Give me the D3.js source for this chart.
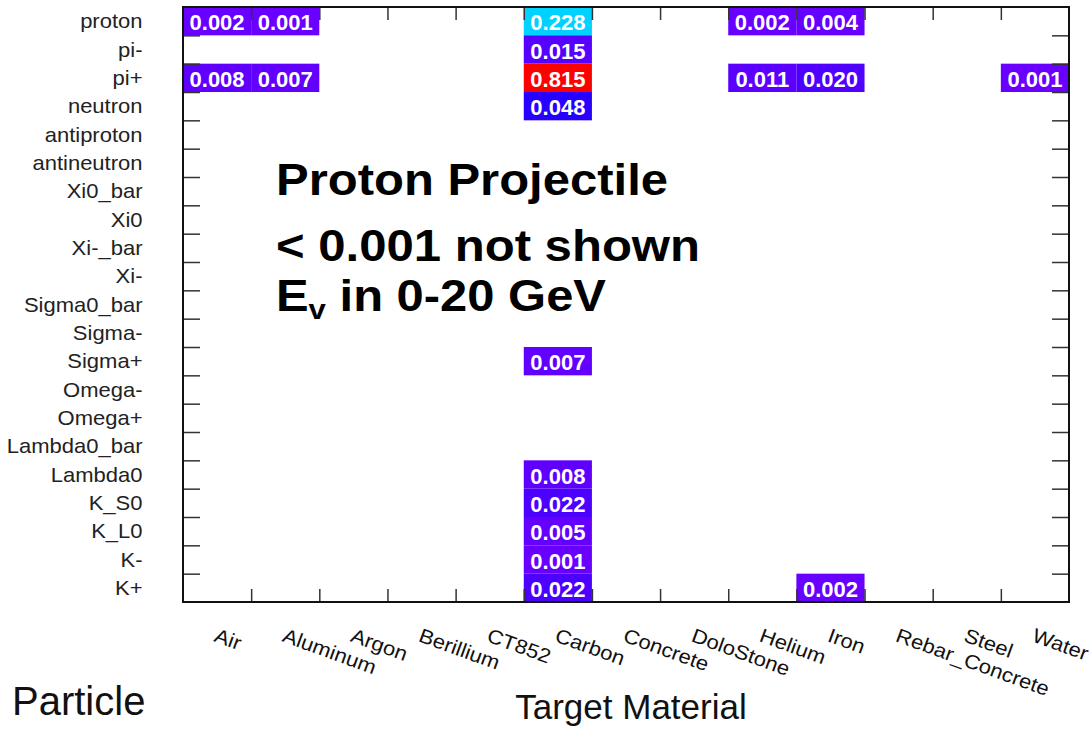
<!DOCTYPE html>
<html>
<head>
<meta charset="utf-8">
<script src="https://cdn.jsdelivr.net/npm/d3@7"></script>
<style>
  body { margin: 0; background: #fff; }
  text { font-family: "Liberation Sans", Arial, Helvetica, sans-serif; }
</style>
</head>
<body>
<div id="chart"></div>
<script>
const materials = ['Air', 'Aluminum', 'Argon', 'Berillium', 'CT852', 'Carbon', 'Concrete',
  'DoloStone', 'Helium', 'Iron', 'Rebar_Concrete', 'Steel', 'Water'];

const particles = ['proton', 'pi-', 'pi+', 'neutron', 'antiproton', 'antineutron', 'Xi0_bar',
  'Xi0', 'Xi-_bar', 'Xi-', 'Sigma0_bar', 'Sigma-', 'Sigma+', 'Omega-', 'Omega+',
  'Lambda0_bar', 'Lambda0', 'K_S0', 'K_L0', 'K-', 'K+'];

// fraction per particle (row) and material (column); 0 = below 0.001, not shown
const fractions = [
  [0.002, 0.001, 0, 0, 0, 0.228, 0, 0, 0.002, 0.004, 0, 0, 0],      // proton
  [0, 0, 0, 0, 0, 0.015, 0, 0, 0, 0, 0, 0, 0],                      // pi-
  [0.008, 0.007, 0, 0, 0, 0.815, 0, 0, 0.011, 0.020, 0, 0, 0.001],  // pi+
  [0, 0, 0, 0, 0, 0.048, 0, 0, 0, 0, 0, 0, 0],                      // neutron
  [0, 0, 0, 0, 0, 0, 0, 0, 0, 0, 0, 0, 0],                          // antiproton
  [0, 0, 0, 0, 0, 0, 0, 0, 0, 0, 0, 0, 0],                          // antineutron
  [0, 0, 0, 0, 0, 0, 0, 0, 0, 0, 0, 0, 0],                          // Xi0_bar
  [0, 0, 0, 0, 0, 0, 0, 0, 0, 0, 0, 0, 0],                          // Xi0
  [0, 0, 0, 0, 0, 0, 0, 0, 0, 0, 0, 0, 0],                          // Xi-_bar
  [0, 0, 0, 0, 0, 0, 0, 0, 0, 0, 0, 0, 0],                          // Xi-
  [0, 0, 0, 0, 0, 0, 0, 0, 0, 0, 0, 0, 0],                          // Sigma0_bar
  [0, 0, 0, 0, 0, 0, 0, 0, 0, 0, 0, 0, 0],                          // Sigma-
  [0, 0, 0, 0, 0, 0.007, 0, 0, 0, 0, 0, 0, 0],                      // Sigma+
  [0, 0, 0, 0, 0, 0, 0, 0, 0, 0, 0, 0, 0],                          // Omega-
  [0, 0, 0, 0, 0, 0, 0, 0, 0, 0, 0, 0, 0],                          // Omega+
  [0, 0, 0, 0, 0, 0, 0, 0, 0, 0, 0, 0, 0],                          // Lambda0_bar
  [0, 0, 0, 0, 0, 0.008, 0, 0, 0, 0, 0, 0, 0],                      // Lambda0
  [0, 0, 0, 0, 0, 0.022, 0, 0, 0, 0, 0, 0, 0],                      // K_S0
  [0, 0, 0, 0, 0, 0.005, 0, 0, 0, 0, 0, 0, 0],                      // K_L0
  [0, 0, 0, 0, 0, 0.001, 0, 0, 0, 0, 0, 0, 0],                      // K-
  [0, 0, 0, 0, 0, 0.022, 0, 0, 0, 0.002, 0, 0, 0],                  // K+
];

const noteLines = ['Proton Projectile', '< 0.001 not shown'];

const width = 1092;
const height = 730;
const frame = { left: 183, right: 1069, top: 7, bottom: 602 };

const svg = d3.select('#chart')
  .append('svg')
  .attr('width', width)
  .attr('height', height);

const x = d3.scaleBand()
  .domain(materials)
  .range([frame.left, frame.right]);

const y = d3.scaleBand()
  .domain(particles)
  .range([frame.top, frame.bottom]);

// bin-edge scales, used for the tick marks between cells
const xEdge = d3.scaleLinear().domain([0, materials.length]).range([frame.left, frame.right]);
const yEdge = d3.scaleLinear().domain([0, particles.length]).range([frame.top, frame.bottom]);

const maxValue = d3.max(fractions.flat());
// rainbow palette, violet (low) to red (high), like the ROOT colz one
const color = d3.scaleSequential(t => d3.hsl(265 * (1 - t), 1, 0.5).toString())
  .domain([0, maxValue]);

const cells = [];
fractions.forEach((row, i) => {
  row.forEach((v, j) => {
    if (v >= 0.001) cells.push({ particle: particles[i], material: materials[j], value: v });
  });
});

const cell = svg.append('g')
  .selectAll('g')
  .data(cells)
  .enter()
  .append('g');

cell.append('rect')
  .attr('x', d => x(d.material))
  .attr('y', d => y(d.particle))
  .attr('width', x.bandwidth())
  .attr('height', y.bandwidth())
  .attr('fill', d => color(d.value));

cell.append('text')
  .attr('x', d => x(d.material) + x.bandwidth() / 2)
  .attr('y', d => y(d.particle) + y.bandwidth() / 2)
  .attr('dy', '0.42em')
  .attr('text-anchor', 'middle')
  .attr('fill', '#fff')
  .attr('font-size', 22)
  .attr('font-weight', 'bold')
  .text(d => d3.format('.3f')(d.value));

// tick marks at the bin edges, pointing inwards
const innerRows = d3.range(1, particles.length);
const innerCols = d3.range(1, materials.length);

function tickStyle(g) {
  g.select('.domain').remove();
  g.selectAll('.tick text').remove();
  g.selectAll('.tick line').attr('stroke', '#333').attr('stroke-width', 1.5);
}

svg.append('g')
  .attr('transform', `translate(${frame.left},0)`)
  .call(d3.axisLeft(yEdge).tickValues(innerRows).tickSize(-17))
  .call(tickStyle);

svg.append('g')
  .attr('transform', `translate(${frame.right},0)`)
  .call(d3.axisRight(yEdge).tickValues(innerRows).tickSize(-17))
  .call(tickStyle);

svg.append('g')
  .attr('transform', `translate(0,${frame.top})`)
  .call(d3.axisTop(xEdge).tickValues(innerCols).tickSize(-13))
  .call(tickStyle);

svg.append('g')
  .attr('transform', `translate(0,${frame.bottom})`)
  .call(d3.axisBottom(xEdge).tickValues(innerCols).tickSize(-13))
  .call(tickStyle);

svg.append('rect')
  .attr('x', frame.left)
  .attr('y', frame.top)
  .attr('width', frame.right - frame.left)
  .attr('height', frame.bottom - frame.top)
  .attr('fill', 'none')
  .attr('stroke', '#111')
  .attr('stroke-width', 2);

// particle names on the left
svg.append('g')
  .selectAll('text')
  .data(particles)
  .enter()
  .append('text')
  .attr('transform', d => `translate(142.5,${y(d) + y.bandwidth() / 2}) scale(1.1,1)`)
  .attr('dy', '0.35em')
  .attr('text-anchor', 'end')
  .attr('font-size', 20)
  .attr('fill', '#222')
  .text(d => d);

// material names, tilted
svg.append('g')
  .selectAll('text')
  .data(materials)
  .enter()
  .append('text')
  .attr('transform', d => `translate(${x(d) + x.bandwidth() / 2 - 4},641) rotate(20) scale(1.1,1)`)
  .attr('font-size', 20)
  .attr('fill', '#111')
  .text(d => d);

svg.append('text')
  .attr('x', 631)
  .attr('y', 719)
  .attr('text-anchor', 'middle')
  .attr('font-size', 35)
  .attr('fill', '#111')
  .text('Target Material');

svg.append('text')
  .attr('x', 12)
  .attr('y', 715)
  .attr('font-size', 40)
  .attr('fill', '#111')
  .text('Particle');

// annotation in the empty part of the plot
const note = svg.append('g')
  .attr('font-size', 44)
  .attr('font-weight', 'bold')
  .attr('fill', '#000');

note.append('text')
  .attr('x', 276)
  .attr('y', 195)
  .attr('textLength', 392)
  .attr('lengthAdjust', 'spacingAndGlyphs')
  .text(noteLines[0]);

note.append('text')
  .attr('x', 276)
  .attr('y', 261)
  .attr('textLength', 424)
  .attr('lengthAdjust', 'spacingAndGlyphs')
  .text(noteLines[1]);

const energy = note.append('text')
  .attr('x', 276)
  .attr('y', 311)
  .attr('textLength', 330)
  .attr('lengthAdjust', 'spacingAndGlyphs');
energy.append('tspan').text('E');
energy.append('tspan').attr('font-size', 28).attr('dy', 8).text('v');
energy.append('tspan').attr('dy', -8).text(' in 0-20 GeV');
</script>
</body>
</html>
